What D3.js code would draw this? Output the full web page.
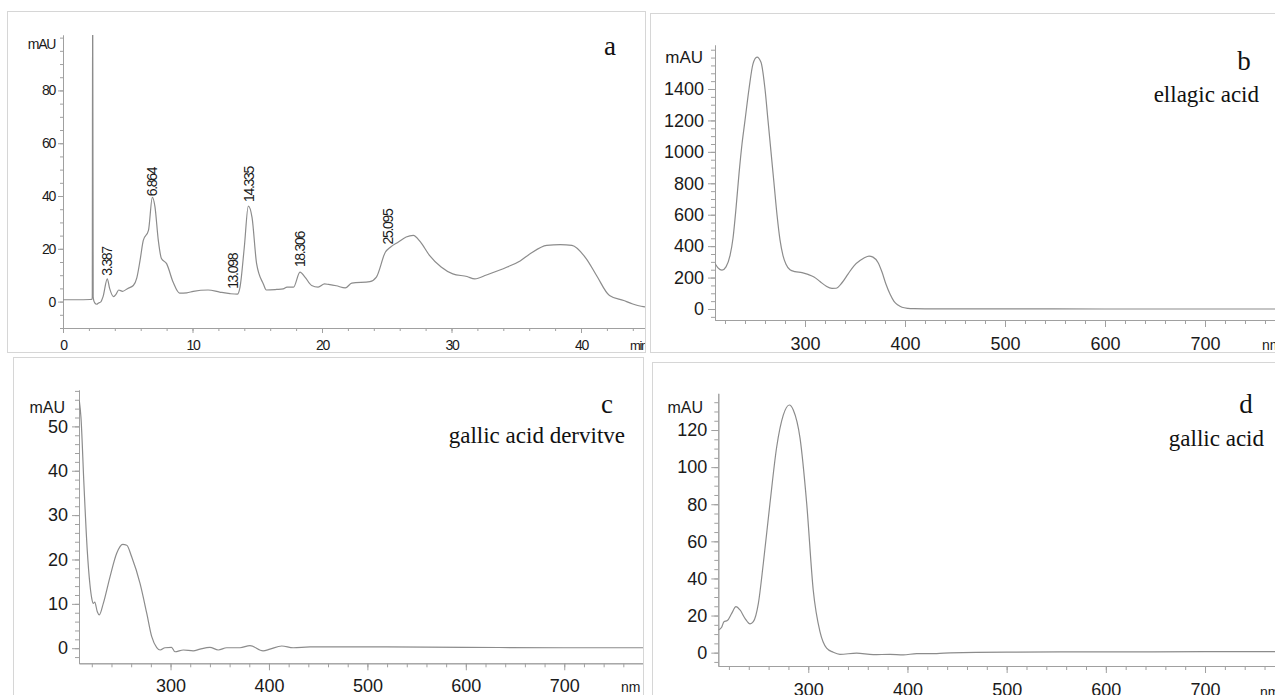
<!DOCTYPE html>
<meta charset="utf-8">
<style>
  body{margin:0;background:#fff}
  svg{display:block}
  .frame{fill:none;stroke:#d6d6d6;stroke-width:1}
  .axis path,.axis line{stroke:#a0a0a0}
  .axis text{fill:#1a1a1a;font-family:"Liberation Sans",Arial,sans-serif}
  .curve{fill:none;stroke:#8c8c8c;stroke-width:1.2}
  .serif{font-family:"Liberation Serif","Times New Roman",serif;fill:#111}
  .unit{font-family:"Liberation Sans",Arial,sans-serif;fill:#1a1a1a}
</style>

<svg width="1275" height="695"></svg>

<script src="https://d3js.org/d3.v7.min.js"></script>
<script>
  // a: chromatogram (min, mAU)
  const chromTime = [0,1,2.1,2.26,2.29,2.33,2.45,2.6,2.75,2.9,3.1,3.42,3.6,3.9,4.1,4.3,4.6,5.0,5.43,5.7,5.95,6.2,6.6,6.9,7.1,7.36,7.6,8.0,8.5,9.0,9.56,10.06,11.2,12.1,12.9,13.46,13.67,14.0,14.31,14.6,14.95,15.47,15.7,16.5,17.0,17.3,17.8,18.3,18.7,19.2,19.7,20.2,20.5,21.1,21.8,22.3,23.7,24.2,24.9,25.3,25.9,26.5,27.05,27.6,28.3,29.2,30.1,31.2,31.8,32.7,34.3,35.3,36.1,37.35,38.4,39.3,40.4,41.2,42.2,43.3,44.0,44.8,45]
  const chromAbs  = [0.7,0.7,0.8,1.0,125,1.5,-0.5,-1,-0.5,-0.2,2,8.6,5,1.9,2.8,4.4,3.9,5,6.1,9,15.6,23.2,27,39.5,36,23.2,16.3,14.4,7.4,3.2,3.3,3.9,4.4,3.6,3.0,2.8,5.5,20.6,36.2,31.8,14.4,6.7,4.4,4.6,4.8,5.5,5.5,11.2,9.2,6.1,5.5,6.7,6.5,6.0,5.2,7.0,7.6,9.3,18.8,20.7,22.6,24.5,25.1,22.6,17.5,13.1,10.5,9.5,8.6,10.1,13.1,15.4,18.2,21.3,21.6,21.3,16.3,9.9,2.3,0.4,-0.9,-1.9,-2]
  const peakTimes = [3.387, 6.864, 13.098, 14.335, 18.306, 25.095]
  const peakNames = ['3.387', '6.864', '13.098', '14.335', '18.306', '25.095']
  const chromTicksX = [0, 10, 20, 30, 40]
  const chromTicksY = [0, 20, 40, 60, 80]

  // b: ellagic acid spectrum (nm, mAU)
  const ellagicNm  = [210,213,217,221,225,228,231,234,237,240,244,248,252,256,260,263,266,269,272,275,278,281,285,290,297,303,309,315,321,327,331,337,343,349,355,359,364,368,373,377,381,385,389,393,397,403,409,420,500,600,700,790]
  const ellagicAbs = [290,262,247,268,339,450,640,860,1050,1200,1400,1560,1603,1570,1400,1200,1000,800,600,440,340,285,250,238,232,220,204,175,146,131,132,167,222,275,308,324,337,330,296,235,157,95,49,25,11,4,2,1,0.5,0,0,0]
  const ellagicTicksY = [0, 200, 400, 600, 800, 1000, 1200, 1400]

  // c: gallic acid derivative spectrum
  const derivNm  = [207.3,209,212,215.4,218,220,221.5,223,225.6,227.6,231.7,238.5,245.3,251.4,255.5,260.5,269,275.8,280.9,286,289.5,294.4,301,304.5,313,323,330,340,348.5,357,370.6,380.7,394,401,413,424.6,441.7,500,600,700,780]
  const derivAbs = [55.8,52,37,22,14.6,11.2,10.1,10.4,8.2,7.5,10.1,16.1,21.4,23.4,23.2,20.6,14.6,7.9,2.6,0.15,-0.4,0.1,0.2,-0.8,-0.4,-0.6,-0.2,0.2,-0.4,0.1,0.1,0.6,-0.6,-0.2,0.5,0.1,0.3,0.3,0.2,0.1,0.1]
  const derivTicksY = [0, 10, 20, 30, 40, 50]

  // d: gallic acid spectrum
  const gallicNm  = [209.3,212.7,215,218.4,222.8,227.1,231.2,236.2,241.3,244.6,249.7,254.7,261.4,268.2,274.8,280.9,284.9,291.7,298.4,305,311.8,318.5,325.2,331.9,348.7,365.5,382.4,395.8,409.3,429.5,443,500,600,700,790]
  const gallicAbs = [12.2,13.7,16.7,17.3,21.2,24.8,23,18.5,15.5,16.7,26.6,48.2,80.5,111,128,133.5,130.8,115.6,80.5,33.8,11.3,2.4,0.2,-0.9,-0.3,-1.1,-0.9,-1.2,-0.5,-0.5,-0.1,0.3,0.4,0.5,0.5]
  const gallicTicksY = [0, 20, 40, 60, 80, 100, 120]

  const nmTicks = [300, 400, 500, 600, 700]

  const svg = d3.select('svg')

  const panels = [
    {id:'a', frame:[7,11,638,341], xd:[0,45], xr:[63,645.75], yd:[-10,101], yr:[328,35],
     xs:chromTime, ys:chromAbs, xt:chromTicksX, xm:2, yt:chromTicksY, ym:5,
     font:14, spacing:-1.3, major:5, minor:3, xpad:7, ypad:3,
     unit:'mAU', unitPos:[55,49], unitSize:14, xunit:'min', xunitPos:[630,350], xunitSize:13,
     letter:'a', letterPos:[610,55]},
    {id:'b', frame:[650,13,640,339], xd:[210,790], xr:[715,1295], yd:[-70,1680], yr:[320,45],
     xs:ellagicNm, ys:ellagicAbs, xt:nmTicks, xm:20, yt:ellagicTicksY, ym:50,
     font:18, spacing:0, major:7, minor:4, xpad:10, ypad:4,
     unit:'mAU', unitPos:[703,63], unitSize:17, xunit:'nm', xunitPos:[1262,350], xunitSize:14,
     letter:'b', letterPos:[1244,70], caption:'ellagic acid', capPos:[1259,102]},
    {id:'c', frame:[13,357,630,400], xd:[207,780], xr:[79,643], yd:[-3.4,58.2], yr:[663.3,390],
     xs:derivNm, ys:derivAbs, xt:nmTicks, xm:20, yt:derivTicksY, ym:2,
     font:18, spacing:0, major:7, minor:4, xpad:9, ypad:4,
     unit:'mAU', unitPos:[65,413], unitSize:16, xunit:'nm', xunitPos:[621,692], xunitSize:14,
     letter:'c', letterPos:[607,413], caption:'gallic acid dervitve', capPos:[625,443]},
    {id:'d', frame:[652,362,640,400], xd:[209.3,790], xr:[718.3,1294.3], yd:[-7.2,139.8], yr:[666,393.3],
     xs:gallicNm, ys:gallicAbs, xt:nmTicks, xm:20, yt:gallicTicksY, ym:5,
     font:18, spacing:0, major:7, minor:4, xpad:10, ypad:4,
     unit:'mAU', unitPos:[703,413], unitSize:16, xunit:'nm', xunitPos:[1260,697], xunitSize:14,
     letter:'d', letterPos:[1246,413], caption:'gallic acid', capPos:[1264,446]}
  ]

  panels.forEach(draw)

  function draw(p){
    const g = svg.append('g')
    const f = p.frame

    g.append('clipPath').attr('id','frame-'+p.id)
      .append('rect').attr('x',f[0]).attr('y',f[1]).attr('width',f[2]).attr('height',f[3])
    g.append('clipPath').attr('id','plot-'+p.id)
      .append('rect').attr('x',p.xr[0]).attr('y',p.yr[1])
      .attr('width',p.xr[1]-p.xr[0]).attr('height',p.yr[0]-p.yr[1])

    g.append('rect').attr('class','frame')
      .attr('x',f[0]+0.5).attr('y',f[1]+0.5).attr('width',f[2]).attr('height',f[3])

    const inner = g.append('g').attr('clip-path','url(#frame-'+p.id+')')

    let x = d3.scaleLinear().domain(p.xd).range(p.xr)
    let y = d3.scaleLinear().domain(p.yd).range(p.yr)

    // minor ticks
    const xMinor = d3.range(Math.ceil(p.xd[0]/p.xm)*p.xm, p.xd[1]+1e-6, p.xm)
    const yMinor = d3.range(Math.ceil(p.yd[0]/p.ym)*p.ym, p.yd[1]+1e-6, p.ym)
    inner.append('g').attr('class','axis')
      .attr('transform','translate(0,'+p.yr[0]+')')
      .call(d3.axisBottom(x).tickValues(xMinor).tickSize(p.minor).tickSizeOuter(0).tickFormat(''))
    inner.append('g').attr('class','axis')
      .attr('transform','translate('+p.xr[0]+',0)')
      .call(d3.axisLeft(y).tickValues(yMinor).tickSize(p.minor).tickSizeOuter(0).tickFormat(''))

    // major ticks + labels
    const xa = inner.append('g').attr('class','axis')
      .attr('transform','translate(0,'+p.yr[0]+')')
      .call(d3.axisBottom(x).tickValues(p.xt).tickSize(p.major).tickSizeOuter(0)
        .tickPadding(p.xpad).tickFormat(d3.format('d')))
    const ya = inner.append('g').attr('class','axis')
      .attr('transform','translate('+p.xr[0]+',0)')
      .call(d3.axisLeft(y).tickValues(p.yt).tickSize(p.major).tickSizeOuter(0)
        .tickPadding(p.ypad).tickFormat(d3.format('d')))
    xa.selectAll('text').style('font-size',p.font+'px').style('letter-spacing',p.spacing+'px')
    ya.selectAll('text').style('font-size',p.font+'px').style('letter-spacing',p.spacing+'px')

    // unit labels
    inner.append('text').attr('class','unit')
      .attr('x',p.unitPos[0]).attr('y',p.unitPos[1]).attr('text-anchor','end')
      .style('font-size',p.unitSize+'px').style('letter-spacing',p.spacing+'px')
      .text(p.unit)
    inner.append('text').attr('class','unit')
      .attr('x',p.xunitPos[0]).attr('y',p.xunitPos[1])
      .style('font-size',p.xunitSize+'px').style('letter-spacing',p.spacing+'px')
      .text(p.xunit)

    // curve
    const line = d3.line()
      .x((d,i)=>x(p.xs[i]))
      .y(d=>y(d))
      .curve(d3.curveMonotoneX)
    inner.append('path').attr('class','curve')
      .attr('clip-path','url(#plot-'+p.id+')')
      .attr('d', line(p.ys))

    // letter + caption
    inner.append('text').attr('class','serif')
      .attr('x',p.letterPos[0]).attr('y',p.letterPos[1]).attr('text-anchor','middle')
      .style('font-size','27px').text(p.letter)
    if(p.caption){
      inner.append('text').attr('class','serif')
        .attr('x',p.capPos[0]).attr('y',p.capPos[1]).attr('text-anchor','end')
        .style('font-size','23px').text(p.caption)
    }

    // retention time labels on the chromatogram
    if(p.id==='a'){
      const bis = d3.bisector(d=>d).left
      const valueAt = t=>{
        const i = bis(p.xs, t)
        const t0 = p.xs[i-1], t1 = p.xs[i]
        return p.ys[i-1] + (p.ys[i]-p.ys[i-1])*(t-t0)/(t1-t0)
      }
      inner.selectAll('.peak')
        .data(peakTimes)
        .enter()
        .append('text')
        .attr('class','unit peak')
        .attr('transform',t=>'translate('+x(t)+','+(y(valueAt(t))-5)+') rotate(-90)')
        .attr('dy','0.35em')
        .style('font-size','14px').style('letter-spacing','-1.3px')
        .text((t,i)=>peakNames[i])
    }
  }
</script>
